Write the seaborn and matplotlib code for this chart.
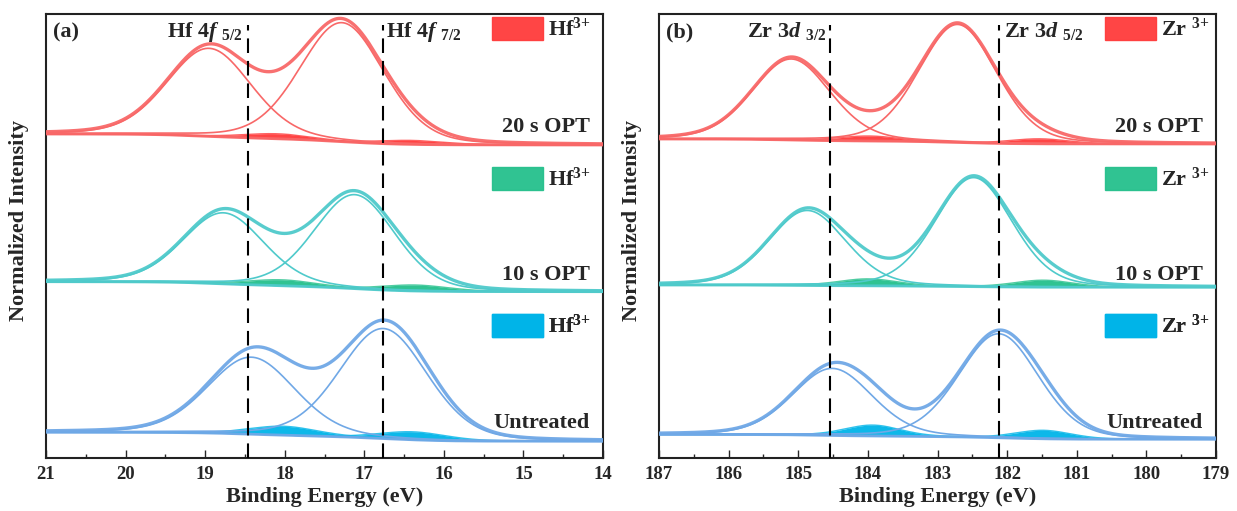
import numpy as np
import matplotlib
matplotlib.use("Agg")
import matplotlib.pyplot as plt
import matplotlib.transforms as mtransforms
from matplotlib.patches import Patch
from matplotlib.ticker import MultipleLocator
import seaborn as sns

# ---------------- data ----------------
samples = ["20 s OPT", "10 s OPT", "Untreated"]

# Hf 4f panel (a)
hf_offsets = [313.0, 166.3, 16.7]      # background level at low-BE end
hf_steps = [11.0, 10.0, 9.0]           # Shirley step (high-BE minus low-BE)
hf_52_center = [18.95, 18.77, 18.42]
hf_52_height = [88.0, 71.0, 77.0]
hf_72_center = [17.28, 17.12, 16.76]
hf_72_height = [119.0, 94.0, 110.0]
hf_fwhm = [1.25, 1.20, 1.30]
hf3_a_center = [18.10, 18.05, 18.02]
hf3_a_height = [5.0, 6.0, 9.0]
hf3_b_center = [16.41, 16.36, 16.39]
hf3_b_height = [4.0, 6.0, 8.0]
hf3_fwhm = [1.0, 1.0, 1.0]
hf_dashes = [18.46, 16.77]

# Zr 3d panel (b)
zr_offsets = [314.0, 170.7, 18.7]
zr_steps = [5.0, 2.3, 4.8]
zr_32_center = [185.10, 184.87, 184.51]
zr_32_height = [81.0, 75.0, 67.0]
zr_52_center = [182.71, 182.48, 182.12]
zr_52_height = [118.0, 109.0, 104.0]
zr_fwhm = [1.32, 1.30, 1.35]
zr3_a_center = [183.99, 184.00, 183.93]
zr3_a_height = [5.0, 7.0, 11.0]
zr3_b_center = [181.54, 181.48, 181.48]
zr3_b_height = [5.0, 7.0, 8.5]
zr3_fwhm = [1.0, 1.0, 0.95]
zr_dashes = [184.54, 182.12]

line_colors = ["#F86868", "#4FCACB", "#70A8E6"]
fill_colors = ["#FF3B3B", "#25C08C", "#00B4E8"]

# ---------------- style ----------------
sns.set_theme(style="ticks")
plt.rcParams["font.family"] = ["Liberation Serif", "DejaVu Serif"]
plt.rcParams["font.weight"] = "bold"
plt.rcParams["mathtext.fontset"] = "custom"
plt.rcParams["mathtext.rm"] = "Liberation Serif:bold"
plt.rcParams["mathtext.bf"] = "Liberation Serif:bold"
plt.rcParams["mathtext.it"] = "Liberation Serif:bold:italic"
plt.rcParams["mathtext.default"] = "rm"
plt.rcParams["axes.linewidth"] = 1.5


def pv(E, c, h, f, m=0.2):
    x = (E - c) / f
    return h * ((1 - m) * np.exp(-4 * np.log(2) * x ** 2) + m / (1 + 4 * x ** 2))


def draw_panel(ax, E, offs, steps, c1, h1, c2, h2, fw, sa_c, sa_h, sb_c, sb_h, s_fw,
               dashes, xlim, letter, lab1, lab2, ion, lab1_x, lab2_x):
    for i in range(3):
        p1 = pv(E, c1[i], h1[i], fw[i])
        p2 = pv(E, c2[i], h2[i], fw[i])
        s1 = pv(E, sa_c[i], sa_h[i], s_fw[i])
        s2 = pv(E, sb_c[i], sb_h[i], s_fw[i])
        total = p1 + p2 + s1 + s2
        cum = np.cumsum(total)
        bg = offs[i] + steps[i] * cum / cum[-1]
        col = line_colors[i]
        for s in (s1, s2):
            ax.fill_between(E, bg, bg + s, color=fill_colors[i], alpha=0.95, lw=0, zorder=2)
            sns.lineplot(x=E, y=bg + s, ax=ax, color=fill_colors[i], lw=1.0, alpha=0.8, zorder=2)
        sns.lineplot(x=E, y=bg, ax=ax, color=col, lw=2.0, alpha=0.95, zorder=3)
        sns.lineplot(x=E, y=bg + p1, ax=ax, color=col, lw=1.2, zorder=3)
        sns.lineplot(x=E, y=bg + p2, ax=ax, color=col, lw=1.2, zorder=3)
        sns.lineplot(x=E, y=bg + total, ax=ax, color=col, lw=2.4, alpha=0.95, zorder=4)

    ax.set_xlim(*xlim)
    ax.set_ylim(0, 444)
    for d in dashes:
        ax.axvline(d, ymin=0, ymax=0.975, color="black", lw=1.5,
                   linestyle=(0, (7, 3.8)), zorder=5)
    ax.xaxis.set_major_locator(MultipleLocator(1))
    ax.xaxis.set_minor_locator(MultipleLocator(0.5))
    ax.tick_params(axis="x", which="major", direction="in", length=6, width=1.0,
                   labelsize=13.5, pad=6, bottom=True, top=False)
    ax.tick_params(axis="x", which="minor", direction="in", length=3, width=1.0,
                   bottom=True, top=False)
    ax.tick_params(axis="y", left=False, right=False, labelleft=False)
    for lbl in ax.get_xticklabels():
        lbl.set_fontweight("bold")
    for sp in ax.spines.values():
        sp.set_visible(True)
        sp.set_color("#222222")
        sp.set_linewidth(1.5)
    ax.set_xlabel("Binding Energy (eV)", fontsize=16, fontweight="bold")
    ax.xaxis.set_label_coords(0.5, -0.066)
    ax.set_ylabel("Normalized Intensity", fontsize=16, fontweight="bold")
    ax.yaxis.set_label_coords(-0.03, 0.535)

    ax.text(0.012, 0.948, letter, transform=ax.transAxes, fontsize=16,
            fontweight="bold", va="baseline", ha="left")
    trans = mtransforms.blended_transform_factory(ax.transData, ax.transAxes)
    ax.text(lab1_x, 0.948, lab1, transform=trans, fontsize=16, fontweight="bold",
            ha="right", va="baseline")
    ax.text(lab2_x, 0.948, lab2, transform=trans, fontsize=16, fontweight="bold",
            ha="left", va="baseline")

    label_y = [0.735, 0.401, 0.068]
    for i in range(3):
        ax.text(0.976, label_y[i], samples[i], transform=ax.transAxes, fontsize=16,
                fontweight="bold", ha="right", va="baseline")

    legend_y = [0.993, 0.655, 0.324]
    for i in range(3):
        leg = ax.legend(handles=[Patch(facecolor=fill_colors[i], edgecolor=fill_colors[i],
                                       alpha=0.95, label=ion)],
                        loc="upper left", bbox_to_anchor=(0.8, legend_y[i]),
                        frameon=False, fontsize=16, handlelength=2.3, handleheight=1.2,
                        handletextpad=0.25, borderpad=0, borderaxespad=0)
        for t in leg.get_texts():
            t.set_fontweight("bold")
        ax.add_artist(leg)


fig = plt.figure(figsize=(12.37, 5.11), dpi=100)
ax1 = fig.add_axes([46 / 1237, 1 - 458 / 511, 557 / 1237, 444 / 511])
ax2 = fig.add_axes([659 / 1237, 1 - 458 / 511, 557 / 1237, 444 / 511])

E_hf = np.linspace(14.0, 21.0, 700)
E_zr = np.linspace(179.0, 187.0, 800)

draw_panel(ax1, E_hf, hf_offsets, hf_steps, hf_52_center, hf_52_height, hf_72_center,
           hf_72_height, hf_fwhm, hf3_a_center, hf3_a_height, hf3_b_center, hf3_b_height,
           hf3_fwhm, hf_dashes, (21, 14), "(a)",
           r"Hf 4$\mathit{f}$ $_{5/2}$", r"Hf 4$\mathit{f}$ $_{7/2}$", r"Hf$^{3{+}}$",
           18.53, 16.73)
draw_panel(ax2, E_zr, zr_offsets, zr_steps, zr_32_center, zr_32_height, zr_52_center,
           zr_52_height, zr_fwhm, zr3_a_center, zr3_a_height, zr3_b_center, zr3_b_height,
           zr3_fwhm, zr_dashes, (187, 179), "(b)",
           r"Zr 3$\mathit{d}$ $_{3/2}$", r"Zr 3$\mathit{d}$ $_{5/2}$", r"Zr $^{3{+}}$",
           184.59, 182.05)

fig.savefig("out.png", dpi=100)
